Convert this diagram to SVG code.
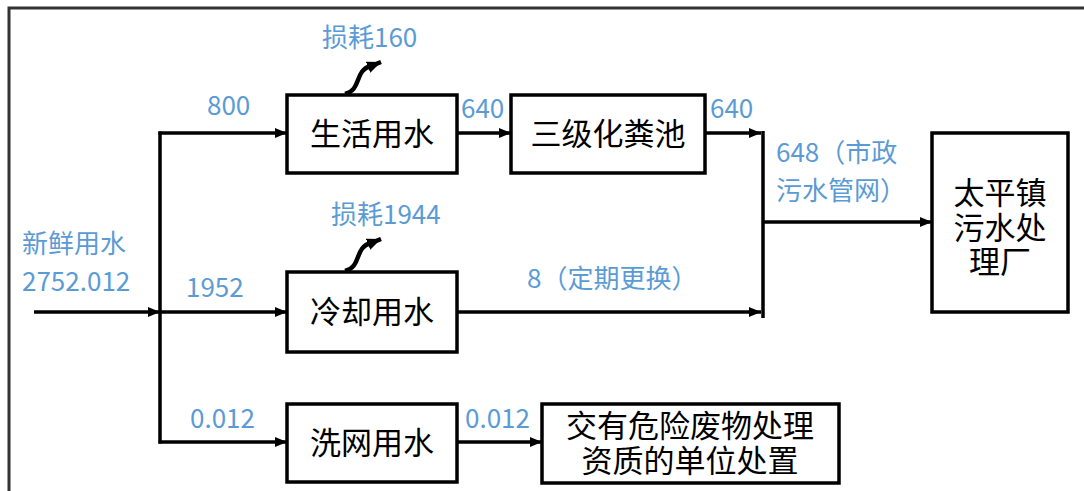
<svg xmlns="http://www.w3.org/2000/svg" width="1084" height="491" viewBox="0 0 1084 491">
<defs>
<style>
.box{fill:#fff;stroke:#000;stroke-width:3.5}
.t{font-family:"Noto Sans CJK SC","Noto Sans",sans-serif;font-size:31px;fill:#000;text-anchor:middle}
.lb{font-family:"Noto Sans CJK SC","Noto Sans",sans-serif;font-size:26px;fill:#5b9bd5}
.c{fill:none;stroke:#000;stroke-width:3.5}
.cv{fill:none;stroke:#000;stroke-width:4.5}
</style>
<marker id="ah" viewBox="0 0 12 10" refX="12" refY="5" markerWidth="12" markerHeight="10" markerUnits="userSpaceOnUse" orient="auto">
<path d="M0,0 L12,5 L0,10 z" fill="#000"/>
</marker>
<marker id="ah2" viewBox="0 0 14 12" refX="14" refY="6" markerWidth="14" markerHeight="12" markerUnits="userSpaceOnUse" orient="auto">
<path d="M0,0 L14,6 L0,12 z" fill="#000"/>
</marker>
</defs>
<rect x="0" y="0" width="1084" height="491" fill="#fff"/>
<rect x="9" y="8" width="1100" height="500" fill="none" stroke="#333" stroke-width="3"/>

<g id="connectors">
<line class="c" x1="34" y1="312" x2="160" y2="312" marker-end="url(#ah)"/>
<line class="c" x1="160" y1="131.5" x2="160" y2="443.5"/>
<line class="c" x1="158.5" y1="133" x2="287" y2="133" marker-end="url(#ah)"/>
<line class="c" x1="160" y1="312" x2="287" y2="312" marker-end="url(#ah)"/>
<line class="c" x1="158.5" y1="442" x2="287" y2="442" marker-end="url(#ah)"/>
<line class="c" x1="457" y1="133" x2="511" y2="133" marker-end="url(#ah)"/>
<line class="c" x1="705" y1="133" x2="761" y2="133" marker-end="url(#ah)"/>
<line class="c" x1="457" y1="312" x2="761" y2="312" marker-end="url(#ah)"/>
<line class="c" x1="763" y1="131" x2="763" y2="318"/>
<line class="c" x1="763" y1="222" x2="932" y2="222" marker-end="url(#ah)"/>
<line class="c" x1="457" y1="442" x2="542" y2="442" marker-end="url(#ah)"/>
<path class="cv" d="M345,94 C362,90 354,70 371,66 L381,62" marker-end="url(#ah2)"/>
<path class="cv" d="M345,271 C362,267 354,247 371,243 L381,239" marker-end="url(#ah2)"/>
</g>

<g id="n_life"><rect class="box" x="287" y="95" width="170" height="78"/><text class="t" x="372" y="145">生活用水</text></g>
<g id="n_septic"><rect class="box" x="511" y="95" width="194" height="78"/><text class="t" x="608" y="145">三级化粪池</text></g>
<g id="n_cool"><rect class="box" x="287" y="272" width="170" height="80"/><text class="t" x="372" y="323">冷却用水</text></g>
<g id="n_wash"><rect class="box" x="287" y="404" width="170" height="78"/><text class="t" x="372" y="454">洗网用水</text></g>
<g id="n_plant"><rect class="box" x="932" y="133" width="136" height="179"/>
<text class="t" x="1000" y="204">太平镇</text><text class="t" x="1000" y="239">污水处</text><text class="t" x="1000" y="273">理厂</text></g>
<g id="n_hazard"><rect class="box" x="542" y="404" width="297" height="79"/>
<text class="t" x="690" y="437">交有危险废物处理</text><text class="t" x="690" y="472">资质的单位处置</text></g>

<g id="labels">
<text class="lb" x="322" y="47">损耗160</text>
<text class="lb" x="207" y="115">800</text>
<text class="lb" x="461" y="118">640</text>
<text class="lb" x="710" y="118">640</text>
<text class="lb" x="331" y="224">损耗1944</text>
<text class="lb" x="776" y="162">648（市政</text>
<text class="lb" x="776" y="200">污水管网）</text>
<text class="lb" x="22" y="253">新鲜用水</text>
<text class="lb" x="22" y="291">2752.012</text>
<text class="lb" x="186" y="297">1952</text>
<text class="lb" x="527" y="288">8（定期更换）</text>
<text class="lb" x="190" y="428">0.012</text>
<text class="lb" x="465" y="428">0.012</text>
</g>
</svg>
